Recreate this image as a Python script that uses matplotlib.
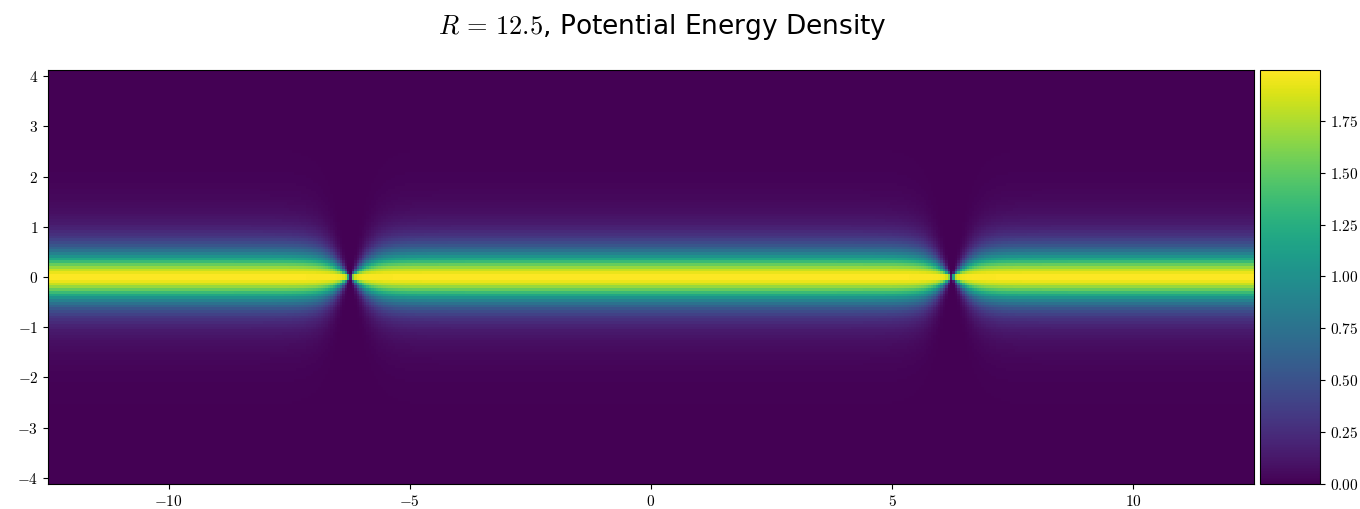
import numpy as np
import matplotlib
matplotlib.use('Agg')
import matplotlib.pyplot as plt
from matplotlib.ticker import FuncFormatter

plt.rcParams['mathtext.fontset'] = 'cm'

# parameters of the field
R = 12.5
peak = 1.995            # value on the string axis
core_width = 0.66       # width scale of the band profile
tail_power = 2.0
pinch_x = [-R / 2, R / 2]
pinch_scale = 0.5       # how quickly the band recovers after a pinch

x_ticks = [-10, -5, 0, 5, 10]
y_ticks = [-4, -3, -2, -1, 0, 1, 2, 3, 4]
cbar_ticks = [0.0, 0.25, 0.5, 0.75, 1.0, 1.25, 1.5, 1.75]

# grid
nx, ny = 500, 150
xs = np.linspace(-R, R, nx)
ys = np.linspace(-4.125, 4.125, ny)
X, Y = np.meshgrid(xs, ys)

g = np.ones_like(X)
for px in pinch_x:
    g = g * np.tanh(np.abs(X - px) / pinch_scale)
g = np.maximum(g, 1e-6)
V = peak / (1 + (Y / (core_width * g)) ** 2) ** tail_power

fig = plt.figure(figsize=(13.6, 5.09), dpi=100)
ax = fig.add_axes([48 / 1360, 25 / 509, 1206 / 1360, 414 / 509])
cax = fig.add_axes([1260 / 1360, 25 / 509, 60 / 1360, 414 / 509])

im = ax.imshow(V, origin='lower', extent=[-R, R, -4.125, 4.125],
               aspect='auto', cmap='viridis', vmin=0, vmax=peak,
               interpolation='nearest')
ax.set_xticks(x_ticks)
ax.set_yticks(y_ticks)
ax.xaxis.set_major_formatter(FuncFormatter(lambda v, p: rf'${v:g}$'))
ax.yaxis.set_major_formatter(FuncFormatter(lambda v, p: rf'${v:g}$'))
ax.tick_params(labelsize=11)

cb = fig.colorbar(im, cax=cax, ticks=cbar_ticks)
cb.ax.yaxis.set_major_formatter(FuncFormatter(lambda v, p: rf'${v:.2f}$'))
cb.ax.tick_params(labelsize=11)

fig.text(662 / 1360, 1 - 27 / 509, r'$R\,=\,12.5$, Potential Energy Density',
         ha='center', va='center', fontsize=19)

fig.savefig('out.png', dpi=100)
